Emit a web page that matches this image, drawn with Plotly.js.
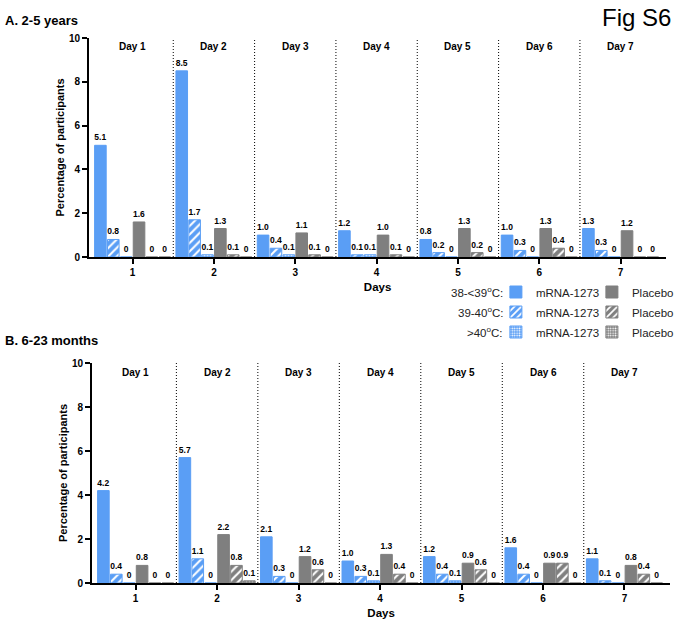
<!DOCTYPE html>
<html>
<head>
<meta charset="utf-8">
<script src="https://cdn.plot.ly/plotly-3.0.1.min.js"></script>
<style>html,body{margin:0;padding:0;background:#fff;}#chart{width:688px;height:635px;}</style>
</head>
<body>
<div id="chart"></div>
<script>
// ---------- data ----------
const days = [1, 2, 3, 4, 5, 6, 7];
const dayLabels = ['Day 1', 'Day 2', 'Day 3', 'Day 4', 'Day 5', 'Day 6', 'Day 7'];
const tickLabels = ['1', '2', '3', '4', '5', '6', '7'];

// Panel A: 2-5 years
const a_mrna_38 = [5.1, 8.5, 1.0, 1.2, 0.8, 1.0, 1.3];
const a_mrna_39 = [0.8, 1.7, 0.4, 0.1, 0.2, 0.3, 0.3];
const a_mrna_40 = [0, 0.1, 0.1, 0.1, 0, 0, 0];
const a_plac_38 = [1.6, 1.3, 1.1, 1.0, 1.3, 1.3, 1.2];
const a_plac_39 = [0, 0.1, 0.1, 0.1, 0.2, 0.4, 0];
const a_plac_40 = [0, 0, 0, 0, 0, 0, 0];

// Panel B: 6-23 months
const b_mrna_38 = [4.2, 5.7, 2.1, 1.0, 1.2, 1.6, 1.1];
const b_mrna_39 = [0.4, 1.1, 0.3, 0.3, 0.4, 0.4, 0.1];
const b_mrna_40 = [0, 0, 0, 0.1, 0.1, 0, 0];
const b_plac_38 = [0.8, 2.2, 1.2, 1.3, 0.9, 0.9, 0.8];
const b_plac_39 = [0, 0.8, 0.6, 0.4, 0.6, 0.9, 0.4];
const b_plac_40 = [0, 0.1, 0, 0, 0, 0, 0];

const seriesNames = ['mRNA-1273', 'Placebo'];
const rowLabels = ['38-&lt;39<sup>o</sup>C:', '39-40<sup>o</sup>C:', '&gt;40<sup>o</sup>C:'];

// ---------- style ----------
const FONT = 'Liberation Sans, Arial, Helvetica, sans-serif';
const BLUE = '#5A9EF5';
const GRAY = '#7F7F7F';
const LEG_ROWS_PX = [292, 312, 332];

function fmt(v) { return v === 0 ? '0' : v.toFixed(1); }

function patternFor(level, color) {
  if (level === 0) return { shape: '' };
  if (level === 1) return { shape: '/', bgcolor: color, fgcolor: '#ffffff', size: 6, solidity: 0.35, fillmode: 'replace' };
  return { shape: '.', bgcolor: color, fgcolor: '#ffffff', size: 3, solidity: 0.4, fillmode: 'replace' };
}

function makeTrace(vals, group, level, xa, ya, showLeg) {
  const color = group === 0 ? BLUE : GRAY;
  return {
    type: 'bar',
    x: days,
    y: vals,
    xaxis: xa, yaxis: ya,
    name: seriesNames[group],
    legend: level === 0 ? 'legend' : ('legend' + (level + 1)),
    showlegend: showLeg,
    text: vals.map(fmt),
    textposition: 'outside',
    constraintext: 'none',
    cliponaxis: false,
    textfont: { family: FONT, size: 8.5, color: '#000', weight: 'bold' },
    marker: {
      color: color,
      line: { color: color, width: 1 },
      pattern: patternFor(level, color)
    },
    hoverinfo: 'x+y+name'
  };
}

const A = [[a_mrna_38, a_mrna_39, a_mrna_40], [a_plac_38, a_plac_39, a_plac_40]];
const B = [[b_mrna_38, b_mrna_39, b_mrna_40], [b_plac_38, b_plac_39, b_plac_40]];

const traces = [];
[[A, 'x', 'y', true], [B, 'x2', 'y2', false]].forEach(([P, xa, ya, leg]) => {
  for (let g = 0; g < 2; g++) {
    for (let l = 0; l < 3; l++) {
      traces.push(makeTrace(P[g][l], g, l, xa, ya, leg));
    }
  }
});

// ---------- layout ----------
const tickFont = { family: FONT, size: 10, color: '#000', weight: 'bold' };
function xAxis(domain, anchor) {
  return {
    domain: domain, anchor: anchor,
    range: [0.465, 7.56],
    tickvals: days, ticktext: tickLabels,
    ticks: 'outside', ticklen: 5, tickwidth: 2, tickcolor: '#000',
    showline: true, linewidth: 2, linecolor: '#000',
    showgrid: false, zeroline: false,
    tickfont: tickFont,
    title: { text: 'Days', font: { family: FONT, size: 11.5, color: '#000', weight: 'bold' }, standoff: 6 }
  };
}
function yAxis(domain, anchor) {
  return {
    domain: domain, anchor: anchor,
    range: [0, 10], dtick: 2,
    ticks: 'outside', ticklen: 5, tickwidth: 2, tickcolor: '#000',
    showline: true, linewidth: 2, linecolor: '#000',
    showgrid: false, zeroline: false,
    tickfont: tickFont,
    title: { text: 'Percentage of participants', font: { family: FONT, size: 11, color: '#000', weight: 'bold' }, standoff: 2 }
  };
}

const shapes = [];
const annotations = [];
[['x', 'y', 9.6], ['x2', 'y2', 9.55]].forEach(([xa, ya, yl]) => {
  for (let i = 0; i < days.length - 1; i++) {
    const xb = (days[i] + days[i + 1]) / 2;
    shapes.push({ type: 'line', xref: xa, yref: ya, x0: xb, x1: xb, y0: 0, y1: 10,
      line: { color: '#000', width: 1, dash: '1px,2px' } });
  }
  days.forEach((d, i) => {
    annotations.push({ xref: xa, yref: ya, x: d, y: yl, text: dayLabels[i], showarrow: false,
      font: { family: FONT, size: 10, color: '#000', weight: 'bold' } });
  });
});

annotations.push({ xref: 'paper', yref: 'paper', x: 0.004, y: 0.9685, xanchor: 'left', yanchor: 'middle',
  text: 'A. 2-5 years', showarrow: false, font: { family: FONT, size: 13, color: '#000', weight: 'bold' } });
annotations.push({ xref: 'paper', yref: 'paper', x: 0.004, y: 0.463, xanchor: 'left', yanchor: 'middle',
  text: 'B. 6-23 months', showarrow: false, font: { family: FONT, size: 13, color: '#000', weight: 'bold' } });
annotations.push({ xref: 'paper', yref: 'paper', x: 0.988, y: 0.9717, xanchor: 'right', yanchor: 'middle',
  text: 'Fig S6', showarrow: false, font: { family: FONT, size: 24, color: '#000' } });

// legend row labels
rowLabels.forEach((lab, i) => {
  annotations.push({ xref: 'paper', yref: 'paper', x: 510 / 688, y: 1 - LEG_ROWS_PX[i] / 635,
    xanchor: 'right', yanchor: 'middle', text: lab, showarrow: false,
    font: { family: FONT, size: 11.5, color: '#222' } });
});

function legendCfg(i) {
  return {
    orientation: 'h', x: 501 / 688, xanchor: 'left', y: 1 - LEG_ROWS_PX[i] / 635, yanchor: 'middle',
    bgcolor: 'rgba(0,0,0,0)', borderwidth: 0,
    font: { family: FONT, size: 11.5, color: '#222' },
    entrywidth: 51, entrywidthmode: 'pixels',
    tracegroupgap: 0, itemwidth: 30
  };
}

const layout = {
  width: 688, height: 635,
  margin: { l: 0, r: 0, t: 0, b: 0, pad: 0 },
  paper_bgcolor: '#fff', plot_bgcolor: '#fff',
  barmode: 'group', bargap: 0.05, bargroupgap: 0.1,
  font: { family: FONT, color: '#000' },
  xaxis: xAxis([90 / 688, 673 / 688], 'y'),
  yaxis: yAxis([1 - 257 / 635, 1 - 38 / 635], 'x'),
  xaxis2: xAxis([93 / 688, 677 / 688], 'y2'),
  yaxis2: yAxis([1 - 583 / 635, 1 - 363 / 635], 'x2'),
  legend: legendCfg(0),
  legend2: legendCfg(1),
  legend3: legendCfg(2),
  shapes: shapes,
  annotations: annotations
};

Plotly.newPlot('chart', traces, layout, { displayModeBar: false, staticPlot: true });
</script>
</body>
</html>
